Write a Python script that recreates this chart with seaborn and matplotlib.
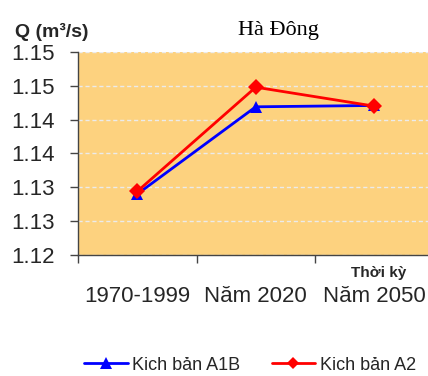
import matplotlib
matplotlib.use("Agg")
import matplotlib.pyplot as plt
import seaborn as sns
import pandas as pd

periods = ["1970-1999", "Năm 2020", "Năm 2050"]
series_names = ["Kich bản A1B", "Kich bản A2"]
q_a1b = [1.1290, 1.1419, 1.1421]
q_a2 = [1.1294, 1.1448, 1.1420]
y_ticks = [1.120, 1.125, 1.130, 1.135, 1.140, 1.145, 1.150]

df = pd.DataFrame({
    "pos": list(range(len(periods))) * 2,
    "Q": q_a1b + q_a2,
    "scenario": [series_names[0]] * 3 + [series_names[1]] * 3,
})

sns.set_theme(style="white")
plt.rcParams["font.family"] = ["Liberation Sans", "DejaVu Sans"]

fig = plt.figure(figsize=(4.28, 3.76), dpi=100)
ax = fig.add_axes([78 / 428, 121 / 376, 355.5 / 428, 203 / 376])
ax.set_facecolor("#FDD27F")

sns.lineplot(
    data=df, x="pos", y="Q", hue="scenario", style="scenario",
    palette={series_names[0]: "#0000FF", series_names[1]: "#FF0000"},
    markers={series_names[0]: "^", series_names[1]: "D"},
    dashes=False, markersize=8, linewidth=2, markeredgewidth=0,
    ax=ax, legend=False, zorder=3,
)

ax.set_xlim(-0.5, 2.5)
ax.set_ylim(1.12, 1.15)
ax.set_yticks(y_ticks)
ax.set_yticklabels([f"{v:.2f}" if round(v * 1000) % 10 == 0 else f"{v + 0.0001:.2f}" for v in y_ticks])
for v in y_ticks:
    ax.axhline(v, color="#EBEBEB", lw=1, ls=(0, (3, 2)), zorder=1)

# category boundaries carry the tick marks, names sit centered
ax.set_xticks([-0.5, 0.5, 1.5])
ax.set_xticklabels([])
ax.set_xticks([0, 1, 2], minor=True)
ax.set_xticklabels(periods, minor=True, fontsize=16)
ax.tick_params(axis="x", which="minor", length=0, pad=22)
ax.tick_params(axis="x", which="major", length=6, width=1, color="#444444", direction="out", bottom=True)
ax.tick_params(axis="y", length=6, width=1, color="#444444", direction="out", left=True, labelsize=16, pad=11)
ax.set_xlabel("")
ax.set_ylabel("")

for s in ["top", "right"]:
    ax.spines[s].set_visible(False)
for s in ["left", "bottom"]:
    ax.spines[s].set_color("#444444")
    ax.spines[s].set_linewidth(1)

fig.text(278 / 428, 1 - 35 / 376, "Hà Đông", family=["Liberation Serif", "DejaVu Serif"],
         fontsize=16, ha="center", va="baseline", color="black")
fig.text(15 / 428, 1 - 37 / 376, "Q (m³/s)", fontsize=14, fontweight="bold",
         ha="left", va="baseline")
fig.text(379 / 428, 1 - 273 / 376, "Thời kỳ", fontsize=11, fontweight="bold",
         ha="center", va="center")

handles = [
    plt.Line2D([], [], color="#0000FF", lw=2, marker="^", markersize=8, markeredgewidth=0),
    plt.Line2D([], [], color="#FF0000", lw=2, marker="D", markersize=6, markeredgewidth=0),
]
fig.legend(handles, series_names, loc="center", bbox_to_anchor=(250 / 428, 1 - 365 / 376),
           ncol=2, frameon=False, fontsize=13, handlelength=2.4, columnspacing=1.75,
           handletextpad=0.25)

fig.savefig("out.png", dpi=100)
